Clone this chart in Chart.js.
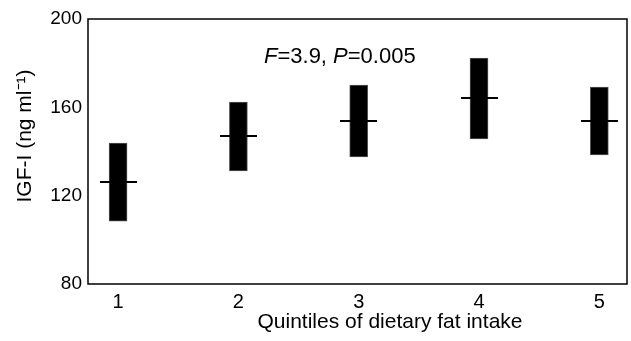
<!DOCTYPE html>
<html>
<head>
<meta charset="utf-8">
<script src="https://cdn.jsdelivr.net/npm/chart.js@4"></script>
<style>
  body { margin: 0; background: #fff; }
</style>
</head>
<body>
<canvas id="myChart" width="631" height="341"></canvas>
<script>
  const quintiles = [1, 2, 3, 4, 5];
  const lowValues = [108.5, 131.2, 137.5, 145.7, 138.4];
  const highValues = [143.8, 162.4, 170.1, 182.3, 169.2];
  const meanValues = [126.2, 147.0, 153.8, 164.2, 153.8];
  const yTicks = [80, 120, 160, 200];

  const fontFam = 'Arial, "Liberation Sans", sans-serif';

  // short horizontal tick used as the point style for the means
  const meanMark = document.createElement('canvas');
  meanMark.width = 37;
  meanMark.height = 2;
  const mctx = meanMark.getContext('2d');
  mctx.fillStyle = '#000';
  mctx.fillRect(0, 0, 37, 2);

  // box, titles and stats text
  const framePlugin = {
    id: 'frame',
    afterDraw(chart) {
      const c = chart.ctx;
      const a = chart.chartArea;
      c.save();
      c.strokeStyle = '#000';
      c.lineWidth = 1.5;
      c.strokeRect(a.left, a.top, a.right - a.left, a.bottom - a.top);

      c.fillStyle = '#000';
      c.textBaseline = 'alphabetic';
      let x = 264;
      const parts = [
        ['italic', 'F'], ['normal', '=3.9, '], ['italic', 'P'], ['normal', '=0.005']
      ];
      parts.forEach(p => {
        c.font = p[0] + ' 22px ' + fontFam;
        c.fillText(p[1], x, 63);
        x += c.measureText(p[1]).width;
      });

      c.font = '21px ' + fontFam;
      c.textAlign = 'center';
      c.textBaseline = 'middle';
      c.fillText('Quintiles of dietary fat intake', 390, 322);

      c.translate(25, 136);
      c.rotate(-Math.PI / 2);
      c.fillText('IGF-I (ng ml\u207B\u00B9)', 0, 0);
      c.restore();
    }
  };

  const ctx = document.getElementById('myChart');

  new Chart(ctx, {
    type: 'bar',
    data: {
      datasets: [{
        label: 'range',
        data: quintiles.map((q, i) => ({ x: q, y: [lowValues[i], highValues[i]] })),
        backgroundColor: '#000',
        borderColor: '#555',
        borderWidth: 1,
        borderSkipped: false,
        barThickness: 18,
        order: 2
      }, {
        type: 'scatter',
        label: 'mean',
        data: quintiles.map((q, i) => ({ x: q, y: meanValues[i] })),
        pointStyle: meanMark,
        pointRadius: 1,
        borderWidth: 0,
        order: 1
      }]
    },
    options: {
      responsive: false,
      animation: false,
      layout: { padding: { top: 19, right: 4, left: 0, bottom: 0 } },
      plugins: {
        legend: { display: false },
        tooltip: { enabled: false }
      },
      scales: {
        x: {
          type: 'linear',
          offset: false,
          min: 0.75,
          max: 5.23,
          grid: { display: false, drawTicks: false },
          border: { display: false },
          afterBuildTicks: axis => { axis.ticks = quintiles.map(v => ({ value: v })); },
          afterFit: axis => { axis.height = 57; },
          ticks: {
            color: '#000',
            font: { family: fontFam, size: 20 },
            padding: 6,
            maxRotation: 0
          }
        },
        y: {
          min: 80,
          max: 200,
          grid: { display: false, drawTicks: false },
          border: { display: false },
          afterBuildTicks: axis => { axis.ticks = yTicks.map(v => ({ value: v })); },
          afterFit: axis => { axis.width = 88; },
          ticks: {
            color: '#000',
            font: { family: fontFam, size: 19 },
            padding: 6
          }
        }
      }
    },
    plugins: [framePlugin]
  });
</script>
</body>
</html>
